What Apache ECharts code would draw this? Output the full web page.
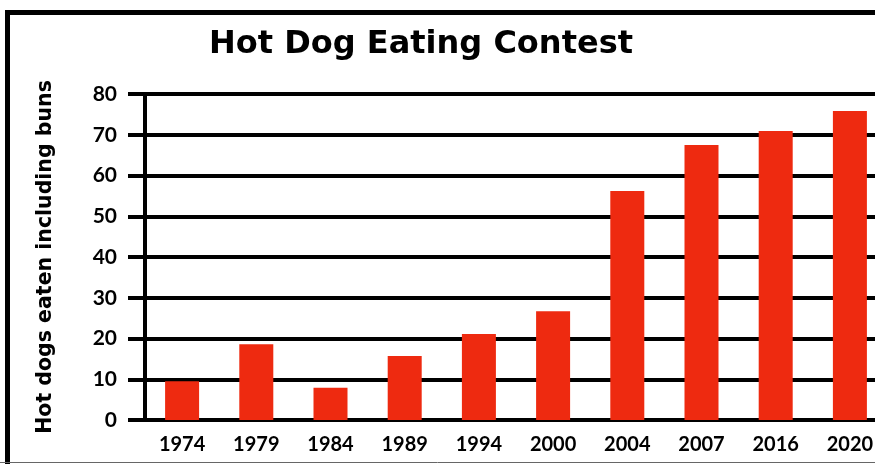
<!DOCTYPE html>
<html>
<head>
<meta charset="utf-8">
<script src="https://cdn.jsdelivr.net/npm/echarts@6/dist/echarts.min.js"></script>
<style>html,body{margin:0;padding:0;background:#fff}#c{width:875px;height:464px}</style>
</head>
<body>
<div id="c"></div>
<script>
const years = ['1974','1979','1984','1989','1994','2000','2004','2007','2016','2020'];
const hotDogs = [9.5, 18.6, 7.9, 15.7, 21.1, 26.7, 56.2, 67.5, 70.9, 75.8];
const yTicks = {min: 0, max: 80, interval: 10};
const titleText = 'Hot Dog Eating Contest';
const yName = 'Hot dogs eaten including buns';

const chart = echarts.init(document.getElementById('c'));
chart.setOption({
  animation: false,
  backgroundColor: '#fff',
  title: {
    text: titleText, left: 416, top: 24, textAlign: 'center',
    textStyle: {fontFamily: 'DejaVu Sans', fontWeight: 'bold', fontSize: 32, color: '#000'}
  },
  grid: {left: 145, top: 94, right: -12, bottom: 44, containLabel: false, outerBoundsMode: 'none'},
  xAxis: {
    type: 'category', data: years,
    axisLine: {show: true, lineStyle: {color: '#000', width: 4}},
    axisTick: {show: false},
    axisLabel: {margin: 15, color: '#000', fontFamily: 'Lato', fontWeight: 'bold', fontSize: 20, interval: 0}
  },
  yAxis: {
    type: 'value', min: yTicks.min, max: yTicks.max, interval: yTicks.interval,
    name: yName, nameLocation: 'middle', nameGap: 89, nameRotate: 90,
    nameTextStyle: {fontFamily: 'DejaVu Sans', fontWeight: 'bold', fontSize: 20.5, color: '#000'},
    axisLine: {show: true, lineStyle: {color: '#000', width: 4}},
    axisTick: {show: true, length: 17, lineStyle: {color: '#000', width: 4}},
    splitLine: {show: true, lineStyle: {color: '#000', width: 4}},
    axisLabel: {margin: 28, color: '#000', fontFamily: 'Lato', fontWeight: 'bold', fontSize: 21}
  },
  series: [{
    type: 'bar', data: hotDogs, barWidth: 34,
    itemStyle: {color: '#EE2A10'}
  }],
  graphic: [
    {type: 'rect', shape: {x: 7.5, y: 12.5, width: 900, height: 500}, style: {fill: 'none', stroke: '#000', lineWidth: 5}, z: 100},
    {type: 'line', shape: {x1: 0, y1: 462.5, x2: 875, y2: 462.5}, style: {stroke: '#666', lineWidth: 1}, z: 100}
  ]
});
</script>
</body>
</html>
